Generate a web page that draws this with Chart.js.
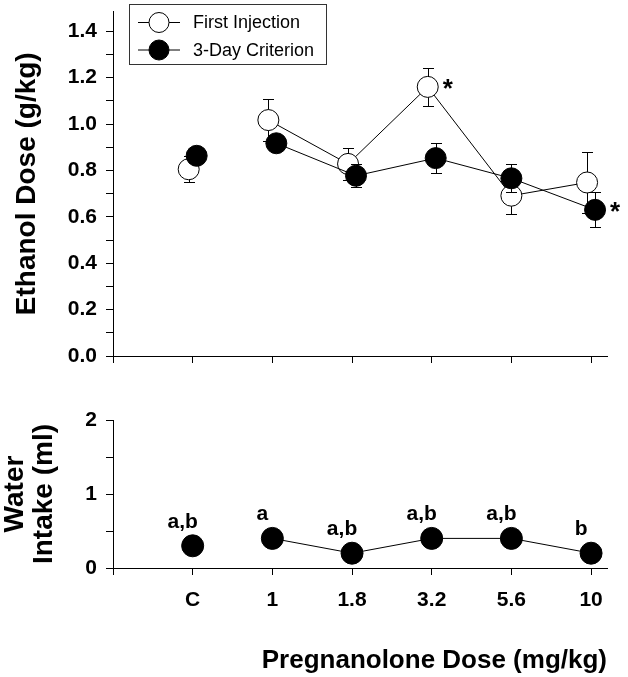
<!DOCTYPE html>
<html>
<head>
<meta charset="utf-8">
<title>Pregnanolone dose</title>
<script src="https://cdn.jsdelivr.net/npm/chart.js@4.4.1/dist/chart.umd.min.js"></script>
<style>
  html, body { margin: 0; padding: 0; background: #fff; }
  #wrap { position: relative; width: 628px; height: 677px; }
  #ethanolChart { position: absolute; left: 0; top: 0; }
  #waterChart { position: absolute; left: 0; top: 380px; }
</style>
</head>
<body>
<div id="wrap">
  <canvas id="ethanolChart" width="628" height="380"></canvas>
  <canvas id="waterChart" width="628" height="297"></canvas>
</div>
<script>
'use strict';

// Data
var doseLabels = ['C', '1', '1.8', '3.2', '5.6', '10'];

var firstInjection = [0.805, 1.017, 0.828, 1.16, 0.691, 0.748];
var firstInjectionErr = [0.055, 0.09, 0.07, 0.082, 0.078, 0.133];

var criterion = [0.863, 0.917, 0.777, 0.853, 0.766, 0.630];
var criterionErr = [0.03, 0.03, 0.05, 0.064, 0.06, 0.076];

var waterIntake = [0.3, 0.4, 0.2, 0.4, 0.4, 0.2];
var waterLetters = ['a,b', 'a', 'a,b', 'a,b', 'a,b', 'b'];

// asterisks in the top panel: [dataset index, dose index]
var starred = [[0, 3], [1, 5]];

var FONT = "'Liberation Sans', Arial, Helvetica, sans-serif";
Chart.defaults.font.family = FONT;
Chart.defaults.color = '#000';

// the two series are nudged apart a bit on the x axis (not at 5.6)
var firstShift = [-0.05, -0.05, -0.05, -0.05, 0, -0.05];
var criterionShift = [0.05, 0.05, 0.05, 0.05, 0, 0.05];

function toPoints(values, shift) {
  return values.map(function (v, i) {
    return { x: i + 1 + (shift ? shift[i] : 0), y: v };
  });
}

// no line from the control point to the first dose
function hideFirstSegment(ctx) {
  return ctx.p0DataIndex === 0 ? 'rgba(0,0,0,0)' : '#000';
}

function noScalePadding(scale) {
  scale.paddingTop = 0;
  scale.paddingBottom = 0;
  scale.paddingLeft = 0;
  scale.paddingRight = 0;
}

// Error bars, drawn just before each dataset so markers cover them
var errorBars = {
  id: 'errorBars',
  beforeDatasetDraw: function (chart, args) {
    var ds = chart.data.datasets[args.index];
    if (!ds.errors) return;
    var ctx = chart.ctx;
    var xs = chart.scales.x;
    var ys = chart.scales.y;
    ctx.save();
    ctx.strokeStyle = '#000';
    ctx.lineWidth = 1;
    ds.data.forEach(function (p, i) {
      var px = Math.round(xs.getPixelForValue(p.x)) + 0.5;
      var top = Math.round(ys.getPixelForValue(p.y + ds.errors[i])) + 0.5;
      var bot = Math.round(ys.getPixelForValue(p.y - ds.errors[i])) + 0.5;
      ctx.beginPath();
      ctx.moveTo(px, top);
      ctx.lineTo(px, bot);
      ctx.moveTo(px - 5.5, top);
      ctx.lineTo(px + 5.5, top);
      ctx.moveTo(px - 5.5, bot);
      ctx.lineTo(px + 5.5, bot);
      ctx.stroke();
    });
    ctx.restore();
  }
};

// Asterisks next to the significant points
var stars = {
  id: 'stars',
  afterDatasetsDraw: function (chart) {
    var ctx = chart.ctx;
    ctx.save();
    ctx.font = 'bold 26px ' + FONT;
    ctx.fillStyle = '#000';
    ctx.textAlign = 'center';
    ctx.textBaseline = 'alphabetic';
    starred.forEach(function (s) {
      var p = chart.data.datasets[s[0]].data[s[1]];
      var px = chart.scales.x.getPixelForValue(p.x) + 20;
      var py = chart.scales.y.getPixelForValue(p.y);
      ctx.fillText('*', px, py + 10);
    });
    ctx.restore();
  }
};

// Boxed legend in the upper left corner
var legendBox = {
  id: 'legendBox',
  afterDraw: function (chart) {
    var ctx = chart.ctx;
    ctx.save();
    ctx.strokeStyle = '#333';
    ctx.lineWidth = 1;
    ctx.strokeRect(129.5, 4.5, 197, 60);
    ctx.font = '18px ' + FONT;
    ctx.textBaseline = 'middle';
    ctx.textAlign = 'left';
    chart.data.datasets.forEach(function (ds, i) {
      var y = 22.5 + i * 27.5;
      ctx.strokeStyle = '#000';
      ctx.beginPath();
      ctx.moveTo(138, y);
      ctx.lineTo(180, y);
      ctx.stroke();
      ctx.beginPath();
      ctx.arc(159, y, 10, 0, Math.PI * 2);
      ctx.fillStyle = ds.pointBackgroundColor;
      ctx.fill();
      ctx.stroke();
      ctx.fillStyle = '#000';
      ctx.fillText(ds.label, 193, y + 1);
    });
    ctx.restore();
  }
};

// Letters above the water intake points
var waterLabels = {
  id: 'waterLabels',
  afterDatasetsDraw: function (chart) {
    var ctx = chart.ctx;
    var pts = chart.data.datasets[0].data;
    ctx.save();
    ctx.font = 'bold 21px ' + FONT;
    ctx.fillStyle = '#000';
    ctx.textAlign = 'center';
    ctx.textBaseline = 'alphabetic';
    pts.forEach(function (p, i) {
      var px = chart.scales.x.getPixelForValue(p.x) - 10;
      var py = chart.scales.y.getPixelForValue(p.y);
      ctx.fillText(waterLetters[i], px, py - 18);
    });
    ctx.restore();
  }
};

var axisGrid = {
  drawOnChartArea: false,
  drawTicks: true,
  tickLength: 7,
  color: '#000',
  lineWidth: 1
};
var axisBorder = { display: true, color: '#000', width: 1 };

// Top panel: ethanol dose
new Chart(document.getElementById('ethanolChart'), {
  type: 'line',
  data: {
    datasets: [{
      label: 'First Injection',
      data: toPoints(firstInjection, firstShift),
      errors: firstInjectionErr,
      order: 1,
      borderColor: '#000',
      borderWidth: 1,
      pointRadius: 10.5,
      pointBorderWidth: 1,
      pointBorderColor: '#000',
      pointBackgroundColor: '#fff',
      segment: { borderColor: hideFirstSegment },
      clip: false
    }, {
      label: '3-Day Criterion',
      data: toPoints(criterion, criterionShift),
      errors: criterionErr,
      order: 0,
      borderColor: '#000',
      borderWidth: 1,
      pointRadius: 10.5,
      pointBorderWidth: 1,
      pointBorderColor: '#000',
      pointBackgroundColor: '#000',
      segment: { borderColor: hideFirstSegment },
      clip: false
    }]
  },
  options: {
    responsive: false,
    animation: false,
    layout: { padding: { top: 10, right: 21, left: 0, bottom: 0 } },
    plugins: { legend: { display: false }, tooltip: { enabled: false } },
    scales: {
      x: {
        type: 'linear',
        min: 0,
        max: 6.2,
        grid: axisGrid,
        border: axisBorder,
        ticks: {
          stepSize: 1,
          autoSkip: false,
          includeBounds: false,
          callback: function () { return ''; }
        },
        afterFit: function (scale) { noScalePadding(scale); scale.height = 24; }
      },
      y: {
        min: 0,
        max: 1.485,
        grid: axisGrid,
        border: axisBorder,
        ticks: {
          stepSize: 0.1,
          autoSkip: false,
          includeBounds: false,
          padding: 9,
          font: { size: 21, weight: 'bold' },
          callback: function (v) {
            return Math.round(v * 10) % 2 === 0 ? v.toFixed(1) : '';
          }
        },
        title: {
          display: true,
          text: 'Ethanol Dose (g/kg)',
          font: { size: 28, weight: 'bold' },
          padding: { top: 10, bottom: 0 }
        },
        afterFit: function (scale) { noScalePadding(scale); scale.width = 113; }
      }
    }
  },
  plugins: [errorBars, stars, legendBox]
});

// Bottom panel: water intake
new Chart(document.getElementById('waterChart'), {
  type: 'line',
  data: {
    datasets: [{
      label: 'Water Intake',
      data: toPoints(waterIntake),
      borderColor: '#000',
      borderWidth: 1,
      pointRadius: 11,
      pointBorderWidth: 1,
      pointBorderColor: '#000',
      pointBackgroundColor: '#000',
      segment: { borderColor: hideFirstSegment },
      clip: false
    }]
  },
  options: {
    responsive: false,
    animation: false,
    layout: { padding: { top: 40, right: 21, left: 0, bottom: 0 } },
    plugins: { legend: { display: false }, tooltip: { enabled: false } },
    scales: {
      x: {
        type: 'linear',
        min: 0,
        max: 6.2,
        grid: axisGrid,
        border: axisBorder,
        ticks: {
          stepSize: 1,
          autoSkip: false,
          includeBounds: false,
          maxRotation: 0,
          padding: 13,
          font: { size: 21, weight: 'bold' },
          callback: function (v) { return doseLabels[Math.round(v) - 1] || ''; }
        },
        title: {
          display: true,
          text: 'Pregnanolone Dose (mg/kg)',
          align: 'end',
          font: { size: 26, weight: 'bold' },
          padding: { top: 0, bottom: 1 }
        },
        afterFit: function (scale) { noScalePadding(scale); scale.height = 109; }
      },
      y: {
        min: 0,
        max: 2,
        grid: axisGrid,
        border: axisBorder,
        ticks: {
          stepSize: 0.5,
          autoSkip: false,
          padding: 9,
          font: { size: 21, weight: 'bold' },
          callback: function (v) { return v % 1 === 0 ? String(v) : ''; }
        },
        title: {
          display: true,
          text: ['Water', 'Intake (ml)'],
          font: { size: 28, weight: 'bold', lineHeight: 1.04 },
          padding: { top: 1, bottom: 0 }
        },
        afterFit: function (scale) { noScalePadding(scale); scale.width = 113; }
      }
    }
  },
  plugins: [waterLabels]
});
</script>
</body>
</html>
